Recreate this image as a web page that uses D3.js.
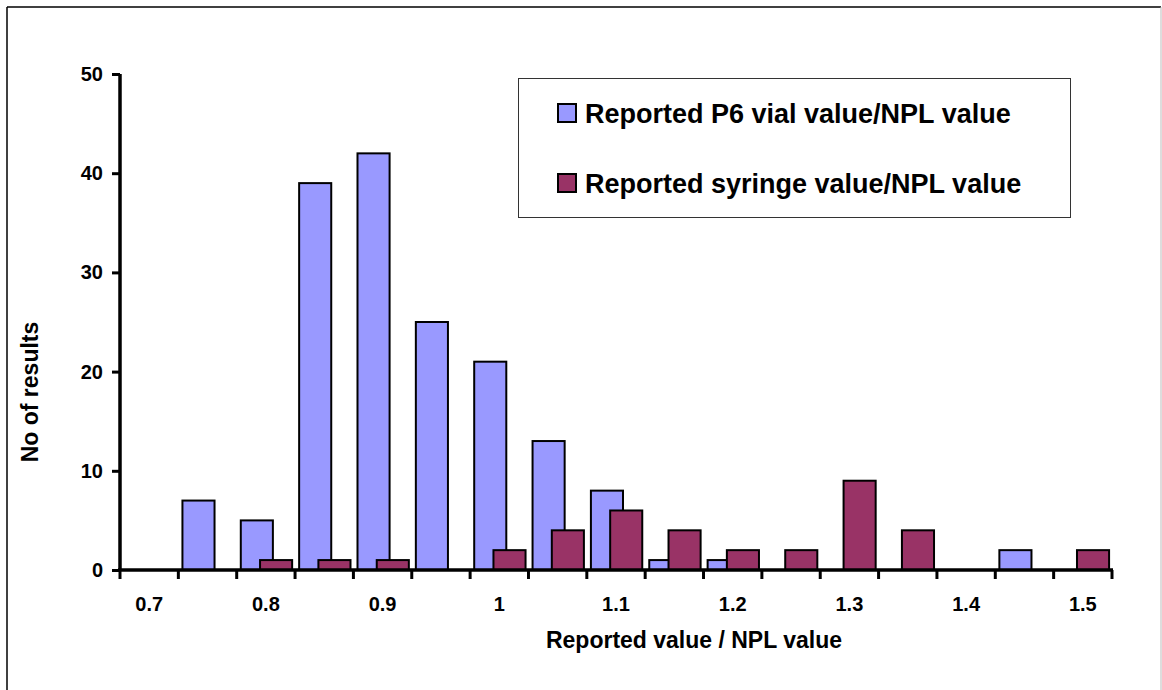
<!DOCTYPE html>
<html>
<head>
<meta charset="utf-8">
<script src="https://cdn.jsdelivr.net/npm/d3@7"></script>
<style>
  body { margin: 0; background: #fff; }
  text { font-family: "Liberation Sans", Arial, sans-serif; font-weight: bold; fill: #000; }
</style>
</head>
<body>
<div id="container"></div>
<script>
/* DATA */
const categories = ["0.7","0.75","0.8","0.85","0.9","0.95","1","1.05","1.1","1.15","1.2","1.25","1.3","1.35","1.4","1.45","1.5"];
const vialValues = [0, 7, 5, 39, 42, 25, 21, 13, 8, 1, 1, 0, 0, 0, 0, 2, 0];
const syringeValues = [0, 0, 1, 1, 1, 0, 2, 4, 6, 4, 2, 2, 9, 4, 0, 0, 2];
const tickLabels = ["0.7","0.8","0.9","1","1.1","1.2","1.3","1.4","1.5"];
const yTicks = [0, 10, 20, 30, 40, 50];
const seriesNames = ["Reported P6 vial value/NPL value", "Reported syringe value/NPL value"];
const colors = ["#9999ff", "#993366"];

/* CONSTANTS */
const width = 1162, height = 690;

const svg = d3.select("#container").append("svg")
  .attr("width", width).attr("height", height);

// outer frame
svg.append("line").attr("x1", 7).attr("x2", 1161).attr("y1", 7).attr("y2", 7)
  .attr("stroke", "#000").attr("stroke-width", 1.5);
svg.append("line").attr("x1", 7).attr("x2", 7).attr("y1", 7).attr("y2", 690)
  .attr("stroke", "#000").attr("stroke-width", 1.5);
svg.append("line").attr("x1", 1161).attr("x2", 1161).attr("y1", 7).attr("y2", 690)
  .attr("stroke", "#bbb").attr("stroke-width", 1);

/* SCALES */
const xScale = d3.scaleBand()
  .domain(categories)
  .range([120, 1112]);

const yScale = d3.scaleLinear()
  .domain([0, 50])
  .range([570, 74]);

const bw = xScale.bandwidth();
const barW = bw * 0.55;
const offsets = [bw * 0.07, bw * 0.4];

/* BARS */
[vialValues, syringeValues].forEach((vals, s) => {
  svg.append("g").selectAll("rect")
    .data(vals.map((v, i) => ({ c: categories[i], v })).filter(d => d.v > 0))
    .join("rect")
    .attr("x", d => xScale(d.c) + offsets[s])
    .attr("y", d => yScale(d.v))
    .attr("width", barW)
    .attr("height", d => yScale(0) - yScale(d.v))
    .attr("fill", colors[s])
    .attr("stroke", "#000")
    .attr("stroke-width", 2);
});

/* AXES */
const yAxis = d3.axisLeft(yScale).tickValues(yTicks).tickSize(8).tickPadding(9);
const gy = svg.append("g").attr("transform", "translate(120,0)").call(yAxis);
gy.select(".domain").attr("stroke-width", 3.5).attr("d", "M0,74V570");
gy.selectAll(".tick line").attr("stroke-width", 3);
gy.selectAll(".tick text").style("font-size", "20px");

// x axis line and ticks between categories
svg.append("line").attr("x1", 118).attr("x2", 1113).attr("y1", 570).attr("y2", 570)
  .attr("stroke", "#000").attr("stroke-width", 3.5);
const boundaries = categories.map(c => xScale(c)).concat([xScale(categories[categories.length - 1]) + bw]);
svg.append("g").selectAll("line")
  .data(boundaries)
  .join("line")
  .attr("x1", d => d).attr("x2", d => d)
  .attr("y1", 570).attr("y2", 579)
  .attr("stroke", "#000").attr("stroke-width", 3);

svg.append("g").selectAll("text")
  .data(tickLabels)
  .join("text")
  .attr("x", d => xScale(categories.find(c => +c === +d)) + bw / 2)
  .attr("y", 611)
  .attr("text-anchor", "middle")
  .style("font-size", "20px")
  .text(d => d);

/* TITLES */
svg.append("text")
  .attr("x", 694).attr("y", 648)
  .attr("text-anchor", "middle")
  .style("font-size", "23px")
  .text("Reported value / NPL value");

svg.append("text")
  .attr("transform", "translate(38,392) rotate(-90)")
  .attr("text-anchor", "middle")
  .style("font-size", "23px")
  .text("No of results");

/* LEGEND */
svg.append("rect")
  .attr("x", 518.5).attr("y", 78.5).attr("width", 552).attr("height", 139)
  .attr("fill", "#fff").attr("stroke", "#333").attr("stroke-width", 1);

const legend = svg.append("g").selectAll("g")
  .data(seriesNames)
  .join("g")
  .attr("transform", (d, i) => `translate(558,${104 + i * 70})`);
legend.append("rect")
  .attr("width", 18).attr("height", 18)
  .attr("fill", (d, i) => colors[i])
  .attr("stroke", "#000").attr("stroke-width", 2);
legend.append("text")
  .attr("x", 27).attr("y", 19)
  .style("font-size", "27px")
  .text(d => d);
</script>
</body>
</html>
